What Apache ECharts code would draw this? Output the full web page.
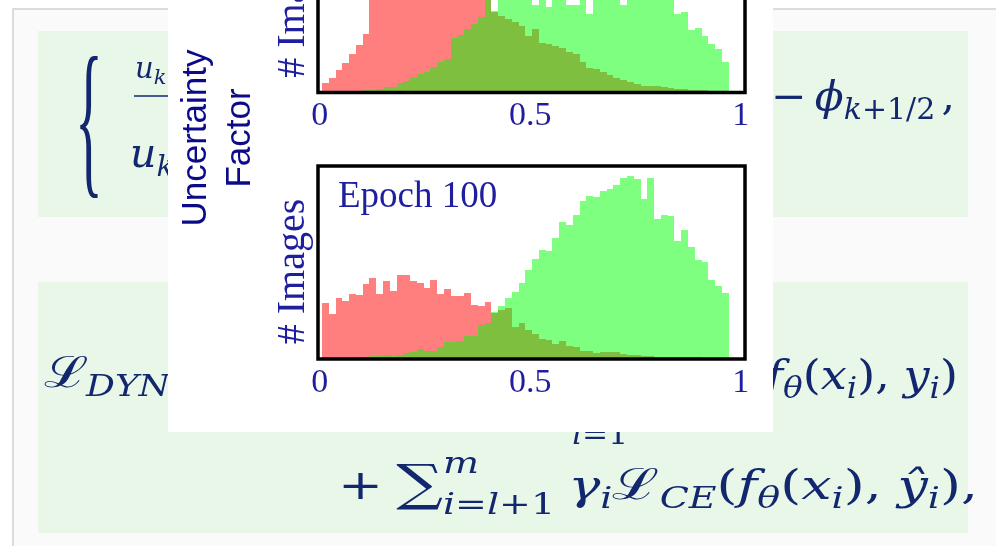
<!DOCTYPE html>
<html><head><meta charset="utf-8">
<script src="https://cdn.jsdelivr.net/npm/echarts@6/dist/echarts.min.js"></script>
<style>html,body{margin:0;padding:0;background:#fff}#c{width:996px;height:546px}</style>
</head><body><div id="c"></div>
<script>
// ---------------- data ----------------
const xTickValues = [0, 0.5, 1];
const xTickLabels = ['0', '0.5', '1'];
const BIN_START = 0.0055;
const BIN_WIDTH = 0.0161;
const yAxisName = '# Images';
const panelTitle = 'Epoch 100';
const sideLabel = 'Uncertainty\nFactor';

// upper panel (earlier epoch) – counts per bin (red = wrong, green = correct)
const earlyRed = [9,14,22,29,38,47,58,96,108,117,126,134,140,146,150,152,150,146,140,132,124,115,105,96,92,80,76,73,70,66,56,63,49,48,46,44,40,38,30,24,23,20,17,14,12,10,8,6,6,6,5,4,3,3,2,2,2,1,1,1];
const earlyGreen = [1,1,0,0,0,0,2,2,3,5,5,9,11,15,18,20,25,30,33,54,57,63,68,75,95,81,98,102,100,104,100,87,105,85,103,100,87,87,96,78,101,104,99,100,87,103,100,97,101,95,98,93,78,80,62,64,56,48,43,30];

// lower panel (Epoch 100)
const lateRed = [55,45,60,57,64,63,74,80,64,77,67,83,83,77,75,70,78,64,69,62,62,65,53,52,56,46,48,50,32,36,29,25,20,19,15,18,13,12,8,8,6,7,7,7,5,4,4,3,3,2,2,2,2,2,2,2,1,1,1,1];
const lateGreen = [1,1,1,1,1,2,2,3,3,4,3,4,6,7,10,8,8,12,17,17,18,23,23,34,36,47,52,60,66,75,88,99,108,107,120,136,133,143,156,161,160,166,168,172,179,181,178,158,179,139,143,142,117,128,111,98,96,78,72,65];

// ---------------- styles ----------------
const MATH_COLOR = '#12276e';
const TICK_COLOR = '#1e1e9e';
const SIDE_COLOR = '#0b0b8a';
const SERIF = '"Liberation Serif", "DejaVu Serif", serif';
const MATH = '"DejaVu Serif", "Liberation Serif", serif';
const SANS = '"Liberation Sans", Arial, sans-serif';

function toBins(arr) {
  return arr.map((v, i) => [BIN_START + i * BIN_WIDTH, BIN_START + (i + 1) * BIN_WIDTH, v]);
}
function histItem(color) {
  return function (params, api) {
    const p0 = api.coord([api.value(0), api.value(2)]);
    const p1 = api.coord([api.value(1), 0]);
    const x0 = Math.round(p0[0]), x1 = Math.round(p1[0]);
    const y0 = Math.round(p0[1]), y1 = Math.round(p1[1]);
    return { type: 'rect', shape: { x: x0, y: y0, width: x1 - x0, height: y1 - y0 }, style: { fill: color } };
  };
}

// math text layout helper (background of the screenshot)
const mctx = document.createElement('canvas').getContext('2d');
function mathRow(pieces, x0, baseline, z, x1) {
  const widths = pieces.map(p => {
    mctx.font = (p[2] ? 'italic ' : '') + p[1] + 'px ' + MATH;
    return mctx.measureText(p[0]).width;
  });
  let natural = 0;
  pieces.forEach((p, i) => { if (!p[4]) natural += widths[i] + (p[5] || 0); });
  const k = x1 ? (x1 - x0) / natural : 1;
  const out = []; let acc = 0;
  pieces.forEach((p, i) => {
    const [text, size, italic, dy, stack] = p;
    out.push({
      type: 'text', z: z, x: x0 + acc * k, y: baseline + (dy || 0) - 0.33 * size, scaleX: k,
      style: { text: text, fontSize: size, fontStyle: italic ? 'italic' : 'normal', fontFamily: MATH,
        fill: MATH_COLOR, align: 'left', verticalAlign: 'middle', textAlign: 'left', textVerticalAlign: 'middle' }
    });
    if (!stack) acc += widths[i] + (p[5] || 0);
  });
  return out;
}

const M = 41, S = 29;
let graphics = [
  { type: 'rect', z: 0, shape: { x: 13, y: 9, width: 995, height: 545 }, style: { fill: '#fafafa', stroke: '#dcdcdc', lineWidth: 2 } },
  { type: 'rect', z: 1, shape: { x: 38, y: 31, width: 930, height: 186 }, style: { fill: '#e9f7e9' } },
  { type: 'rect', z: 1, shape: { x: 38, y: 282, width: 930, height: 251 }, style: { fill: '#e9f7e9' } },
  { type: 'text', z: 2, x: 89, y: 130, scaleY: 2.95,
    style: { text: '{', fontSize: 58, fontFamily: SERIF, fill: MATH_COLOR, align: 'center', verticalAlign: 'middle', textAlign: 'center', textVerticalAlign: 'middle' } },
  { type: 'line', z: 2, shape: { x1: 134, y1: 96, x2: 300, y2: 96 }, style: { stroke: MATH_COLOR, lineWidth: 1.6 } }
];
graphics = graphics.concat(
  mathRow([['u', 29, true], ['k+1', 21, true, 5], [' − u', 29, true], ['k', 21, true, 5]], 135, 80, 2),
  mathRow([['u', M, true], ['k+1/2', S, true, 8], [' = ', M, false], ['u', M, true], ['k', S, true, 8]], 130, 170, 2),
  mathRow([['−', M, false, 0, false, 8], ['ϕ', M, true], ['k', S, true, 8], ['+1/2', S, false, 8, false, 6], [',', M, false]], 771, 113, 2, 955),
  mathRow([['ℒ', M + 2, false, 0, false, -2], ['DYN', S, true, 8]], 44, 390, 2, 170),
  mathRow([['i', S, true], ['=1', S, false]], 572, 446, 2, 628),
  mathRow([['f', M, true], ['θ', S, true, 8], ['(', M, false], ['x', M, true], ['i', S, true, 8], [')', M, false], [',', M, false, 0, false, 12], ['y', M, true], ['i', S, true, 8], [')', M, false]], 766, 392, 2, 958),
  mathRow([['+', M, false, 0, false, 10], ['∑', 50, false, 2], ['m', S, true, -27, true], ['i', S, true, 14], ['=', S, false, 14], ['l', S, true, 14], ['+1', S, false, 14, false, 10],
           ['γ', M, true], ['i', S, true, 8], ['ℒ', M + 2, false], ['CE', S, true, 8], ['(', M, false], ['f', M, true], ['θ', S, true, 8], ['(', M, false], ['x', M, true], ['i', S, true, 8],
           [')', M, false], [',', M, false, 0, false, 12], ['ŷ', M, true], ['i', S, true, 8], [')', M, false], [',', M, false]], 338, 502, 2, 978)
);
graphics.push(
  { type: 'rect', z: 5, shape: { x: 168, y: -5, width: 605, height: 437 }, style: { fill: '#ffffff' } },
  { type: 'text', z: 6, x: 218, y: 138, rotation: Math.PI / 2,
    style: { text: sideLabel, fontSize: 35, lineHeight: 44, fontFamily: SANS, fill: SIDE_COLOR, align: 'center', verticalAlign: 'middle', textAlign: 'center', textVerticalAlign: 'middle' } },
  { type: 'text', z: 20, x: 338, y: 197,
    style: { text: panelTitle, fontSize: 37, fontFamily: SERIF, fill: TICK_COLOR, align: 'left', verticalAlign: 'middle', textAlign: 'left', textVerticalAlign: 'middle' } }
);

function xAxisFor(i) {
  return {
    gridIndex: i, type: 'value', min: -0.004, max: 1.0102, z: 12,
    axisLine: { show: false }, axisTick: { show: false }, splitLine: { show: false },
    axisLabel: { customValues: xTickValues, margin: 7, fontFamily: SERIF, fontSize: 34, color: TICK_COLOR,
      formatter: v => xTickLabels[xTickValues.indexOf(v)] }
  };
}
function yAxisFor(i) {
  return {
    gridIndex: i, type: 'value', min: 0, max: 191, z: 12,
    axisLine: { show: false }, axisTick: { show: false }, splitLine: { show: false }, axisLabel: { show: false },
    name: yAxisName, nameLocation: 'middle', nameRotate: 90, nameGap: 5,
    nameTextStyle: { fontFamily: SERIF, fontSize: 40, color: TICK_COLOR, padding: [0, 18, 0, 0] }
  };
}
const gridBase = { left: 318, width: 427, height: 193, show: true, borderColor: '#000', borderWidth: 3.5,
  backgroundColor: 'transparent', z: 12, outerBoundsMode: 'none', containLabel: false };

const chart = echarts.init(document.getElementById('c'), null, { renderer: 'canvas' });
chart.setOption({
  backgroundColor: '#ffffff',
  animation: false,
  graphic: { elements: graphics },
  grid: [Object.assign({ top: -100.5 }, gridBase), Object.assign({ top: 166 }, gridBase)],
  xAxis: [xAxisFor(0), xAxisFor(1)],
  yAxis: [yAxisFor(0), yAxisFor(1)],
  series: [
    { type: 'custom', xAxisIndex: 0, yAxisIndex: 0, z: 10, clip: true, renderItem: histItem('rgba(255,0,0,0.5)'), encode: { x: [0, 1], y: 2 }, data: toBins(earlyRed) },
    { type: 'custom', xAxisIndex: 0, yAxisIndex: 0, z: 10, clip: true, renderItem: histItem('rgba(0,255,0,0.5)'), encode: { x: [0, 1], y: 2 }, data: toBins(earlyGreen) },
    { type: 'custom', xAxisIndex: 1, yAxisIndex: 1, z: 10, clip: true, renderItem: histItem('rgba(255,0,0,0.5)'), encode: { x: [0, 1], y: 2 }, data: toBins(lateRed) },
    { type: 'custom', xAxisIndex: 1, yAxisIndex: 1, z: 10, clip: true, renderItem: histItem('rgba(0,255,0,0.5)'), encode: { x: [0, 1], y: 2 }, data: toBins(lateGreen) }
  ]
});
</script></body></html>
